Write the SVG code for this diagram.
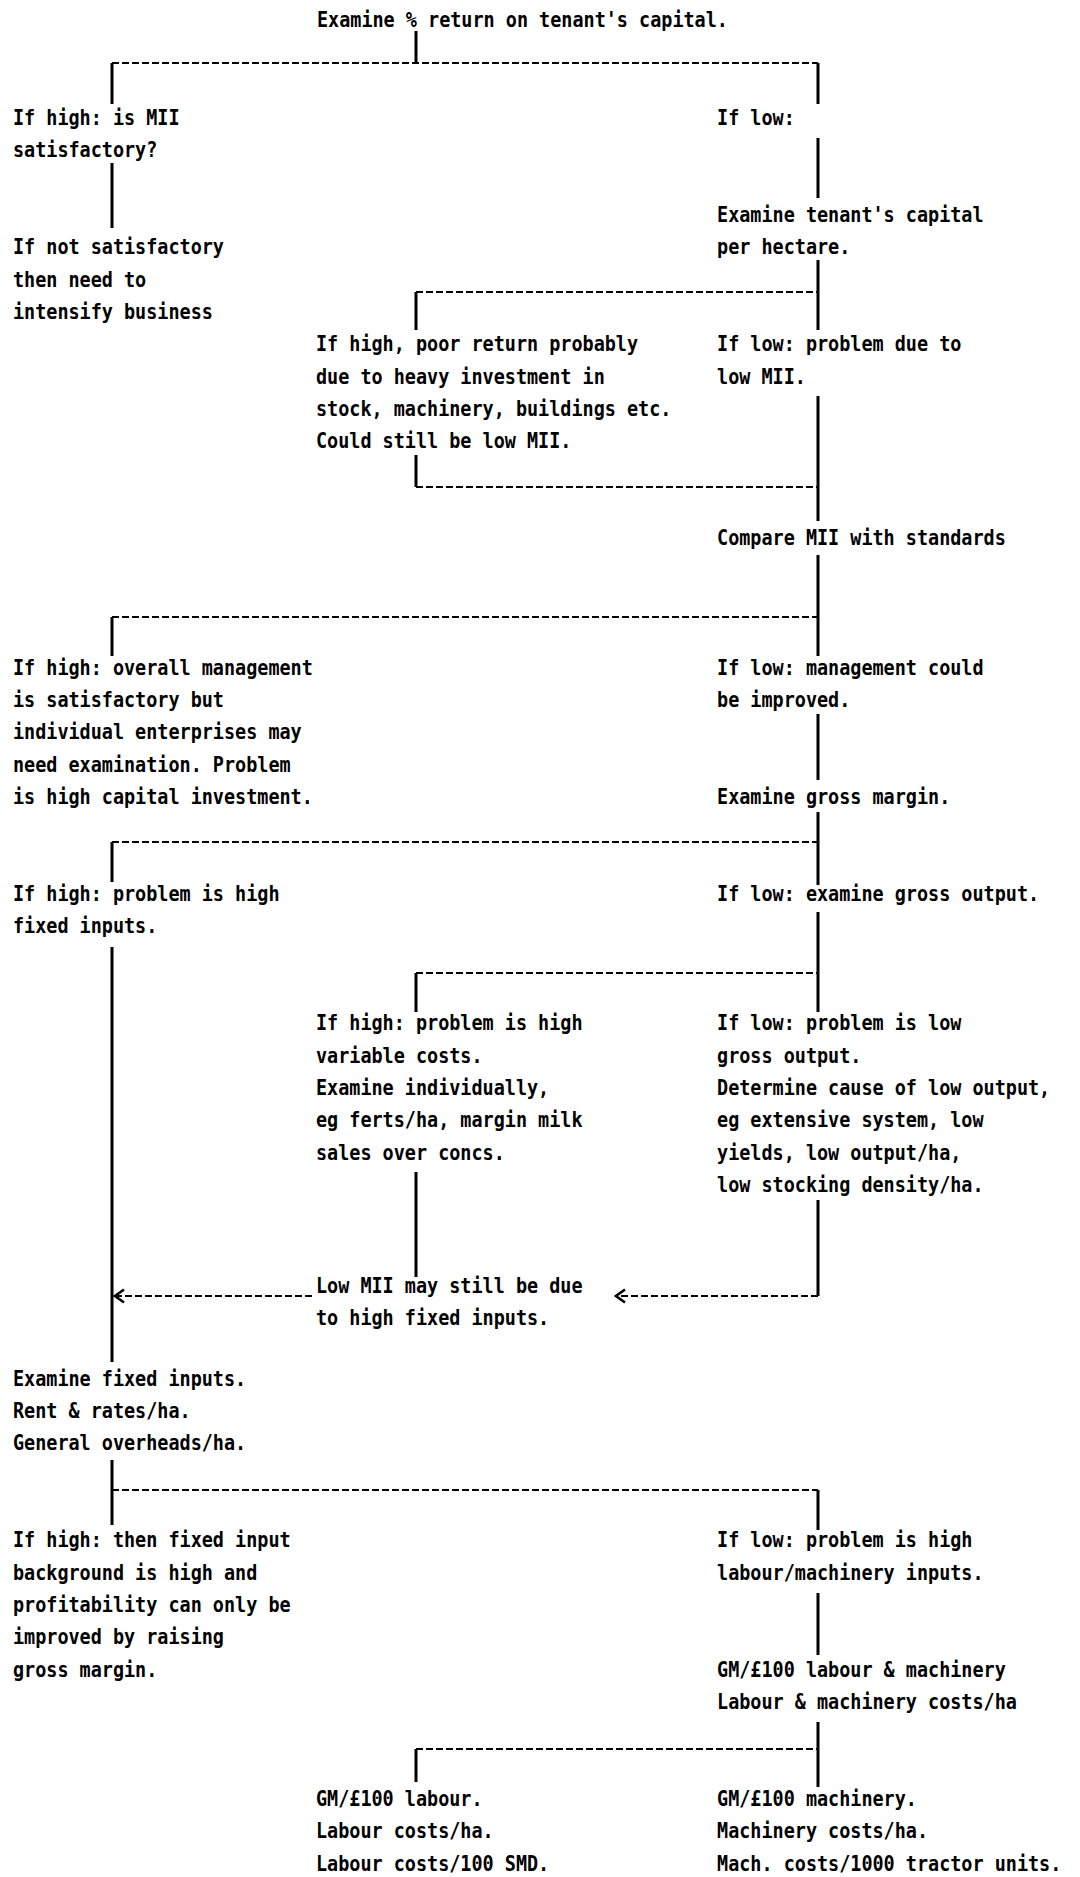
<svg xmlns="http://www.w3.org/2000/svg" width="1080" height="1877" viewBox="0 0 1080 1877">
  <style>
    .t { font-family: "DejaVu Sans Mono", "Liberation Mono", monospace; font-size: 20.5px; font-weight: bold; fill: #000; }
    .s { stroke: #000; stroke-width: 3; fill: none; }
    .d { stroke: #000; stroke-width: 2; stroke-dasharray: 7 3; fill: none; }
  </style>
  <defs>
    <marker id="chev" markerUnits="userSpaceOnUse" markerWidth="14" markerHeight="18" viewBox="-12 -8 14 16" refX="0" refY="0" orient="auto">
      <path d="M-9,-6.5 L0,0 L-9,6.5" fill="none" stroke="#000" stroke-width="2.6"/>
    </marker>
  </defs>
  <rect width="1080" height="1877" fill="#fff"/>

  <!-- connectors: solid drops and dashed branch lines -->
  <g id="connectors">
    <path class="s" d="M416,31V63 M112,63V104 M818,63V104 M112,163V228 M818,138V198 M818,260V330 M416,292V330 M818,396V521 M416,455V487 M818,555V656 M112,617V656 M818,714V780 M818,812V885 M112,842V882 M818,912V1012 M416,973V1012 M112,947V1362 M416,1172V1277 M818,1200V1296 M112,1460V1525 M818,1490V1530 M818,1593V1655 M818,1722V1787 M416,1749V1782"/>
    <path class="d" d="M112,63H818 M416,292H818 M416,487H818 M112,617H818 M112,842H818 M416,973H818 M112,1490H818 M416,1749H818"/>
    <path class="d" d="M312,1296H115" marker-end="url(#chev)"/>
    <path class="d" d="M818,1296H616" marker-end="url(#chev)"/>
  </g>

  <!-- text nodes, condensed horizontally to the printer's pitch -->
  <g id="nodes" transform="scale(0.9 1)">
    <g id="n-title"><text class="t" x="352.2" y="27">Examine % return on tenant's capital.</text></g>
    <g id="n-high-mii"><text class="t"><tspan x="14.4" y="125">If high: is MII</tspan><tspan x="14.4" y="157.3">satisfactory?</tspan></text></g>
    <g id="n-low"><text class="t" x="796.7" y="125">If low:</text></g>
    <g id="n-not-sat"><text class="t"><tspan x="14.4" y="254.3">If not satisfactory</tspan><tspan x="14.4" y="286.7">then need to</tspan><tspan x="14.4" y="319">intensify business</tspan></text></g>
    <g id="n-tenant-cap"><text class="t"><tspan x="796.7" y="222">Examine tenant's capital</tspan><tspan x="796.7" y="254.3">per hectare.</tspan></text></g>
    <g id="n-high-cap"><text class="t"><tspan x="351.1" y="351.3">If high, poor return probably</tspan><tspan x="351.1" y="383.6">due to heavy investment in</tspan><tspan x="351.1" y="416">stock, machinery, buildings etc.</tspan><tspan x="351.1" y="448.3">Could still be low MII.</tspan></text></g>
    <g id="n-low-cap"><text class="t"><tspan x="796.7" y="351.3">If low: problem due to</tspan><tspan x="796.7" y="383.6">low MII.</tspan></text></g>
    <g id="n-compare"><text class="t" x="796.7" y="545.3">Compare MII with standards</text></g>
    <g id="n-high-std"><text class="t"><tspan x="14.4" y="674.6">If high: overall management</tspan><tspan x="14.4" y="707">is satisfactory but</tspan><tspan x="14.4" y="739.3">individual enterprises may</tspan><tspan x="14.4" y="771.6">need examination. Problem</tspan><tspan x="14.4" y="803.9">is high capital investment.</tspan></text></g>
    <g id="n-low-std"><text class="t"><tspan x="796.7" y="674.6">If low: management could</tspan><tspan x="796.7" y="707">be improved.</tspan></text></g>
    <g id="n-gm"><text class="t" x="796.7" y="803.9">Examine gross margin.</text></g>
    <g id="n-high-gm"><text class="t"><tspan x="14.4" y="900.9">If high: problem is high</tspan><tspan x="14.4" y="933.3">fixed inputs.</tspan></text></g>
    <g id="n-low-gm"><text class="t" x="796.7" y="900.9">If low: examine gross output.</text></g>
    <g id="n-high-vc"><text class="t"><tspan x="351.1" y="1030.2">If high: problem is high</tspan><tspan x="351.1" y="1062.6">variable costs.</tspan><tspan x="351.1" y="1094.9">Examine individually,</tspan><tspan x="351.1" y="1127.2">eg ferts/ha, margin milk</tspan><tspan x="351.1" y="1159.6">sales over concs.</tspan></text></g>
    <g id="n-low-go"><text class="t"><tspan x="796.7" y="1030.2">If low: problem is low</tspan><tspan x="796.7" y="1062.6">gross output.</tspan><tspan x="796.7" y="1094.9">Determine cause of low output,</tspan><tspan x="796.7" y="1127.2">eg extensive system, low</tspan><tspan x="796.7" y="1159.6">yields, low output/ha,</tspan><tspan x="796.7" y="1191.9">low stocking density/ha.</tspan></text></g>
    <g id="n-still-low"><text class="t"><tspan x="351.1" y="1293">Low MII may still be due</tspan><tspan x="351.1" y="1325">to high fixed inputs.</tspan></text></g>
    <g id="n-fixed"><text class="t"><tspan x="14.4" y="1385.9">Examine fixed inputs.</tspan><tspan x="14.4" y="1418.2">Rent &amp; rates/ha.</tspan><tspan x="14.4" y="1450.5">General overheads/ha.</tspan></text></g>
    <g id="n-high-fix"><text class="t"><tspan x="14.4" y="1547.5">If high: then fixed input</tspan><tspan x="14.4" y="1579.9">background is high and</tspan><tspan x="14.4" y="1612.2">profitability can only be</tspan><tspan x="14.4" y="1644.5">improved by raising</tspan><tspan x="14.4" y="1676.8">gross margin.</tspan></text></g>
    <g id="n-low-fix"><text class="t"><tspan x="796.7" y="1547.5">If low: problem is high</tspan><tspan x="796.7" y="1579.9">labour/machinery inputs.</tspan></text></g>
    <g id="n-lab-mach"><text class="t"><tspan x="796.7" y="1676.8">GM/£100 labour &amp; machinery</tspan><tspan x="796.7" y="1709.2">Labour &amp; machinery costs/ha</tspan></text></g>
    <g id="n-labour"><text class="t"><tspan x="351.1" y="1806.2">GM/£100 labour.</tspan><tspan x="351.1" y="1838.5">Labour costs/ha.</tspan><tspan x="351.1" y="1870.8">Labour costs/100 SMD.</tspan></text></g>
    <g id="n-machinery"><text class="t"><tspan x="796.7" y="1806.2">GM/£100 machinery.</tspan><tspan x="796.7" y="1838.5">Machinery costs/ha.</tspan><tspan x="796.7" y="1870.8">Mach. costs/1000 tractor units.</tspan></text></g>
  </g>
</svg>
